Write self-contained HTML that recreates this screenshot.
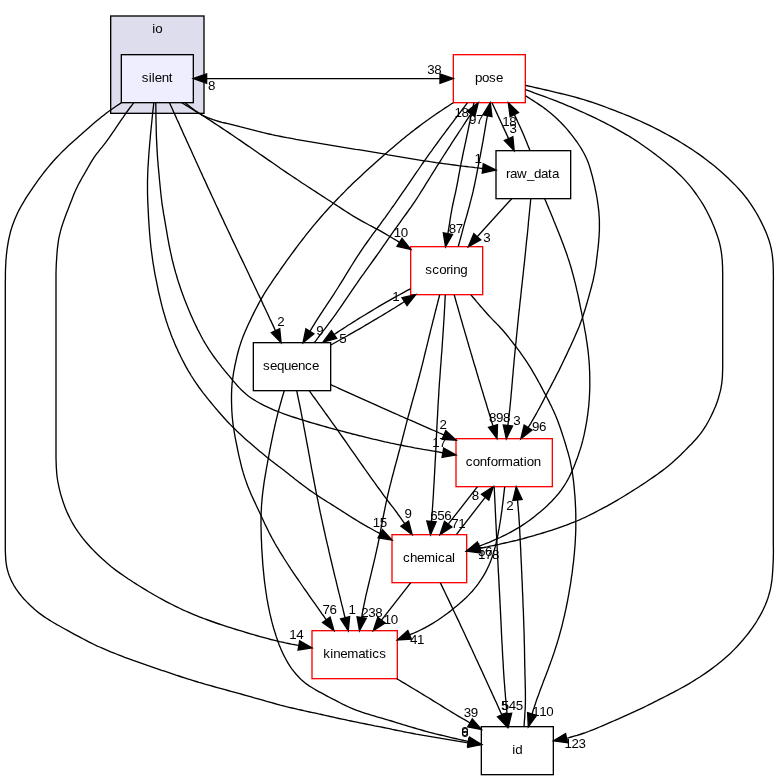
<!DOCTYPE html>
<html><head><meta charset="utf-8"><title>core/io/silent directory dependency graph</title>
<style>
html,body{margin:0;padding:0;background:#fff;}
body{width:779px;height:780px;overflow:hidden;}
.t{font-family:"Liberation Sans",sans-serif;font-size:13.33px;text-anchor:start;fill:#000;}
</style></head><body>
<svg width="779" height="780" viewBox="0 0 779 780" style="display:block;will-change:transform">
<rect x="0" y="0" width="779" height="780" fill="#fff"/>
<rect x="110.67" y="16" width="93.33" height="97.33" fill="#ddddee" stroke="#000" stroke-width="1.33"/>
<text x="152.15 155.15" y="32.60" class="t">io</text>
<rect x="121.33" y="54.67" width="72.00" height="48.00" fill="#eeeeff" stroke="#000" stroke-width="1.33"/>
<text x="141.77 148.77 151.77 154.77 161.77 168.77" y="82.47" class="t">silent</text>
<rect x="453.33" y="54.67" width="72.00" height="48.00" fill="#fff" stroke="#f00" stroke-width="1.33"/>
<text x="474.88 481.88 488.88 495.88" y="82.47" class="t">pose</text>
<rect x="496" y="150.67" width="74.67" height="48.00" fill="#fff" stroke="#000" stroke-width="1.33"/>
<text x="505.92 509.92 516.92 526.92 533.92 540.92 547.92 551.92" y="178.47" class="t">raw_data</text>
<rect x="410.67" y="246.67" width="72.00" height="48.00" fill="#fff" stroke="#f00" stroke-width="1.33"/>
<text x="425.19 432.19 439.19 446.19 450.19 453.19 460.19" y="274.47" class="t">scoring</text>
<rect x="253.33" y="342.67" width="77.34" height="48.00" fill="#fff" stroke="#000" stroke-width="1.33"/>
<text x="263.10 270.10 277.10 284.10 291.10 298.10 305.10 312.10" y="370.47" class="t">sequence</text>
<rect x="456" y="438.67" width="96.33" height="48.00" fill="#fff" stroke="#f00" stroke-width="1.33"/>
<text x="465.64 472.64 479.64 486.64 490.64 497.64 501.64 512.64 519.64 523.64 526.64 533.64" y="466.47" class="t">conformation</text>
<rect x="392" y="534.67" width="74.67" height="48.00" fill="#fff" stroke="#f00" stroke-width="1.33"/>
<text x="403.04 410.04 417.04 424.04 435.04 438.04 445.04 452.04" y="562.47" class="t">chemical</text>
<rect x="312" y="630.67" width="85.33" height="48.00" fill="#fff" stroke="#f00" stroke-width="1.33"/>
<text x="323.19 330.19 333.19 340.19 347.19 358.19 365.19 369.19 372.19 379.19" y="658.47" class="t">kinematics</text>
<rect x="481.33" y="726.67" width="72.00" height="48.00" fill="#fff" stroke="#000" stroke-width="1.33"/>
<text x="512.14 515.14" y="754.47" class="t">id</text>
<path d="M121.4,102.7 L118.9,104.4 L116.4,106.0 L113.9,107.7 L111.4,109.5 L108.9,111.2 L106.5,113.0 L104.1,114.9 L101.7,116.8 L99.4,118.7 L97.1,120.6 L94.7,122.5 L92.4,124.5 L90.2,126.5 L87.9,128.5 L85.6,130.5 L83.3,132.4 L81.1,134.5 L78.8,136.5 L76.6,138.5 L74.3,140.5 L72.1,142.5 L69.8,144.6 L67.6,146.6 L65.4,148.7 L63.2,150.8 L61.1,152.9 L59.0,155.1 L56.9,157.3 L54.8,159.5 L52.8,161.7 L50.8,164.0 L48.9,166.3 L47.0,168.7 L45.1,171.0 L43.2,173.4 L41.4,175.8 L39.6,178.2 L37.8,180.7 L36.1,183.1 L34.3,185.6 L32.6,188.1 L30.9,190.6 L29.2,193.1 L27.5,195.6 L25.9,198.2 L24.3,200.8 L22.8,203.4 L21.3,206.0 L19.8,208.6 L18.4,211.3 L17.1,214.0 L15.9,216.8 L14.7,219.6 L13.6,222.4 L12.5,225.2 L11.6,228.1 L10.7,231.0 L10.0,233.9 L9.3,236.9 L8.6,239.8 L8.1,242.8 L7.6,245.8 L7.1,248.8 L6.8,251.8 L6.4,254.8 L6.2,257.8 L5.9,260.8 L5.8,263.8 L5.6,266.9 L5.5,269.9 L5.4,272.9 L5.4,275.9 L5.4,279.0 L5.3,282.0 L5.3,285.0 L5.3,540.0 L5.3,543.0 L5.3,546.0 L5.3,549.0 L5.4,552.1 L5.5,555.1 L5.7,558.1 L5.9,561.1 L6.3,564.1 L6.8,567.1 L7.5,570.0 L8.3,572.9 L9.3,575.8 L10.4,578.6 L11.7,581.4 L13.1,584.0 L14.6,586.7 L16.2,589.2 L18.0,591.6 L19.8,594.0 L21.7,596.4 L23.7,598.7 L25.8,600.9 L27.9,603.1 L30.1,605.2 L32.3,607.2 L34.5,609.3 L36.8,611.2 L39.2,613.1 L41.6,614.9 L44.0,616.6 L46.5,618.3 L49.1,619.9 L51.6,621.5 L54.2,623.0 L56.9,624.6 L59.5,626.0 L62.1,627.5 L64.8,629.0 L67.4,630.4 L70.1,631.9 L72.7,633.3 L75.4,634.8 L78.0,636.2 L80.7,637.6 L83.4,639.0 L86.0,640.4 L88.7,641.8 L91.4,643.2 L94.1,644.5 L96.8,645.8 L99.6,647.0 L102.3,648.2 L105.1,649.4 L107.9,650.6 L110.7,651.8 L113.5,652.9 L116.3,654.0 L119.1,655.1 L121.9,656.2 L124.7,657.3 L127.6,658.3 L130.4,659.3 L133.2,660.4 L136.1,661.4 L138.9,662.4 L141.7,663.4 L144.6,664.4 L147.4,665.4 L150.3,666.4 L153.1,667.3 L156.0,668.3 L158.9,669.3 L161.7,670.3 L164.6,671.2 L167.4,672.2 L170.3,673.2 L173.1,674.1 L176.0,675.1 L178.9,676.0 L181.7,677.0 L184.6,677.9 L187.5,678.8 L190.3,679.7 L193.2,680.6 L196.1,681.5 L199.0,682.4 L201.9,683.2 L204.8,684.1 L207.7,684.9 L210.6,685.7 L213.5,686.5 L216.4,687.3 L219.3,688.1 L222.2,688.9 L225.1,689.7 L228.0,690.5 L231.0,691.3 L233.9,692.1 L236.8,692.9 L239.7,693.7 L242.6,694.5 L245.5,695.3 L248.4,696.1 L251.3,696.9 L254.2,697.8 L257.1,698.6 L260.0,699.4 L262.9,700.2 L265.8,701.1 L268.7,701.9 L271.6,702.7 L274.5,703.5 L277.4,704.3 L280.3,705.1 L283.3,705.8 L286.2,706.6 L289.1,707.3 L292.0,708.0 L295.0,708.7 L297.9,709.4 L300.9,710.0 L303.8,710.7 L306.7,711.3 L309.7,712.0 L312.6,712.6 L315.6,713.2 L318.5,713.9 L321.5,714.5 L324.4,715.2 L327.4,715.8 L330.3,716.5 L333.3,717.1 L336.2,717.8 L339.1,718.5 L342.1,719.1 L345.0,719.7 L348.0,720.4 L350.9,721.0 L353.9,721.6 L356.8,722.2 L359.8,722.8 L362.8,723.4 L365.7,724.0 L368.7,724.6 L371.6,725.2 L374.6,725.8 L377.5,726.3 L380.5,726.9 L383.5,727.5 L386.4,728.1 L389.4,728.7 L392.3,729.4 L395.3,730.0 L398.2,730.6 L401.2,731.2 L404.1,731.8 L407.1,732.4 L410.1,732.9 L413.0,733.5 L416.0,734.1 L419.0,734.6 L421.9,735.1 L424.9,735.6 L427.9,736.1 L430.8,736.6 L433.8,737.1 L436.8,737.6 L439.8,738.1 L442.7,738.6 L445.7,739.1 L448.7,739.6 L451.7,740.1 L454.6,740.6 L457.6,741.1 L460.6,741.6 L463.6,742.1 L466.5,742.6 L468.3,742.8" fill="none" stroke="#000" stroke-width="1.33"/>
<polygon points="467.69,747.47 481.50,744.50 468.86,738.20" fill="#000" stroke="#000" stroke-width="1.33"/>
<text x="461.20" y="736.80" class="t">6</text>
<path d="M133.8,102.7 L132.0,105.1 L130.1,107.5 L128.3,110.0 L126.5,112.4 L124.8,114.9 L123.1,117.4 L121.3,119.9 L119.6,122.4 L117.9,124.9 L116.2,127.4 L114.6,129.9 L112.8,132.4 L111.1,134.9 L109.4,137.4 L107.6,139.9 L105.8,142.3 L104.0,144.7 L102.1,147.1 L100.1,149.4 L98.3,151.8 L96.4,154.2 L94.6,156.7 L93.0,159.2 L91.4,161.7 L89.8,164.4 L88.3,167.0 L86.8,169.6 L85.3,172.3 L83.8,174.9 L82.2,177.5 L80.8,180.2 L79.3,182.8 L77.9,185.5 L76.6,188.2 L75.3,191.0 L74.1,193.8 L73.0,196.6 L71.9,199.4 L70.8,202.2 L69.7,205.0 L68.6,207.9 L67.5,210.7 L66.4,213.5 L65.3,216.4 L64.3,219.2 L63.3,222.1 L62.3,225.0 L61.4,227.9 L60.6,230.8 L59.9,233.7 L59.2,236.7 L58.6,239.6 L58.2,242.6 L57.8,245.6 L57.4,248.7 L57.1,251.7 L56.9,254.7 L56.7,257.7 L56.5,260.8 L56.3,263.8 L56.2,266.8 L56.1,269.8 L56.0,272.9 L56.0,275.9 L56.0,278.9 L56.0,282.0 L56.0,285.0 L56.0,440.0 L56.0,443.0 L56.0,446.0 L56.0,449.0 L56.0,452.0 L56.0,455.0 L56.0,458.0 L56.1,461.0 L56.2,464.0 L56.3,467.0 L56.5,470.0 L56.7,473.0 L57.0,476.0 L57.4,479.0 L57.9,481.9 L58.5,484.9 L59.1,487.8 L59.8,490.7 L60.5,493.6 L61.4,496.5 L62.3,499.4 L63.2,502.2 L64.2,505.1 L65.3,507.9 L66.4,510.7 L67.6,513.4 L68.9,516.1 L70.2,518.8 L71.6,521.5 L73.1,524.1 L74.6,526.7 L76.2,529.2 L77.9,531.7 L79.7,534.2 L81.5,536.6 L83.3,538.9 L85.2,541.2 L87.2,543.5 L89.2,545.8 L91.2,548.0 L93.3,550.1 L95.4,552.3 L97.6,554.4 L99.7,556.4 L101.9,558.5 L104.2,560.5 L106.4,562.5 L108.7,564.4 L111.0,566.4 L113.3,568.2 L115.7,570.1 L118.1,571.9 L120.6,573.6 L123.0,575.3 L125.5,577.0 L128.0,578.7 L130.5,580.3 L133.0,582.0 L135.6,583.6 L138.1,585.2 L140.6,586.8 L143.2,588.4 L145.7,589.9 L148.3,591.5 L150.9,593.0 L153.5,594.5 L156.1,596.0 L158.7,597.5 L161.3,598.9 L164.0,600.4 L166.6,601.8 L169.3,603.2 L172.0,604.5 L174.6,605.9 L177.3,607.2 L180.1,608.5 L182.8,609.8 L185.5,611.0 L188.2,612.2 L191.0,613.4 L193.8,614.6 L196.5,615.7 L199.3,616.8 L202.1,617.9 L204.9,619.0 L207.8,620.0 L210.6,621.0 L213.4,622.0 L216.2,623.0 L219.1,624.0 L221.9,624.9 L224.8,625.8 L227.7,626.8 L230.5,627.7 L233.4,628.6 L236.2,629.5 L239.1,630.3 L242.0,631.2 L244.9,632.1 L247.7,633.0 L250.6,633.8 L253.5,634.7 L256.4,635.5 L259.3,636.3 L262.1,637.1 L265.0,637.9 L267.9,638.7 L270.8,639.5 L273.7,640.2 L276.7,640.9 L279.6,641.6 L282.5,642.2 L285.4,642.9 L288.4,643.5 L291.3,644.1 L294.3,644.6 L297.2,645.2 L298.9,645.5" fill="none" stroke="#000" stroke-width="1.33"/>
<polygon points="298.06,650.09 312.00,647.80 299.68,640.89" fill="#000" stroke="#000" stroke-width="1.33"/>
<text x="289.30 296.30" y="639.20" class="t">14</text>
<path d="M153.8,102.7 L153.5,105.7 L153.2,108.7 L152.8,111.7 L152.5,114.7 L152.2,117.7 L151.9,120.7 L151.6,123.7 L151.3,126.7 L151.0,129.7 L150.7,132.7 L150.4,135.7 L150.2,138.7 L149.9,141.7 L149.6,144.7 L149.4,147.7 L149.1,150.7 L148.9,153.7 L148.7,156.7 L148.5,159.7 L148.3,162.7 L148.1,165.7 L147.9,168.7 L147.8,171.8 L147.7,174.8 L147.6,177.8 L147.5,180.8 L147.5,183.8 L147.5,186.8 L147.5,189.8 L147.5,192.8 L147.6,195.9 L147.7,198.9 L147.8,201.9 L147.9,204.9 L148.1,207.9 L148.2,210.9 L148.4,213.9 L148.5,216.9 L148.7,219.9 L148.9,223.0 L149.1,226.0 L149.3,229.0 L149.5,232.0 L149.8,235.0 L150.0,238.0 L150.3,241.0 L150.6,244.0 L150.9,247.0 L151.3,250.0 L151.7,253.0 L152.1,256.0 L152.5,258.9 L152.9,261.9 L153.4,264.9 L153.9,267.9 L154.4,270.8 L154.9,273.8 L155.5,276.8 L156.1,279.7 L156.7,282.7 L157.3,285.6 L157.9,288.6 L158.5,291.5 L159.2,294.5 L159.9,297.4 L160.6,300.4 L161.3,303.3 L162.0,306.2 L162.8,309.1 L163.6,312.0 L164.5,314.9 L165.3,317.8 L166.2,320.7 L167.2,323.6 L168.1,326.4 L169.1,329.2 L170.2,332.1 L171.2,334.9 L172.3,337.7 L173.5,340.5 L174.6,343.3 L175.8,346.1 L177.1,348.8 L178.3,351.6 L179.6,354.3 L180.9,357.0 L182.3,359.7 L183.7,362.4 L185.1,365.1 L186.5,367.7 L188.0,370.3 L189.6,372.9 L191.1,375.5 L192.7,378.0 L194.4,380.6 L196.1,383.1 L197.8,385.5 L199.5,388.0 L201.3,390.4 L203.1,392.8 L205.0,395.2 L206.9,397.6 L208.7,399.9 L210.7,402.3 L212.6,404.6 L214.5,406.9 L216.5,409.2 L218.4,411.5 L220.4,413.8 L222.4,416.0 L224.4,418.3 L226.4,420.5 L228.5,422.7 L230.6,424.9 L232.7,427.0 L234.9,429.1 L237.0,431.2 L239.2,433.3 L241.4,435.3 L243.7,437.4 L245.9,439.4 L248.2,441.4 L250.5,443.3 L252.7,445.3 L255.0,447.3 L257.3,449.2 L259.6,451.2 L261.9,453.1 L264.3,455.0 L266.6,456.9 L268.9,458.8 L271.3,460.7 L273.7,462.5 L276.1,464.4 L278.5,466.2 L280.9,468.0 L283.3,469.8 L285.7,471.7 L288.0,473.5 L290.4,475.4 L292.8,477.3 L295.1,479.2 L297.5,481.0 L299.9,482.9 L302.3,484.7 L304.7,486.5 L307.1,488.3 L309.5,490.1 L312.0,491.8 L314.5,493.5 L317.0,495.2 L319.5,496.9 L322.0,498.5 L324.6,500.1 L327.1,501.7 L329.7,503.3 L332.2,504.9 L334.8,506.5 L337.3,508.1 L339.9,509.7 L342.4,511.4 L345.0,513.0 L347.5,514.6 L350.0,516.2 L352.6,517.9 L355.1,519.4 L357.7,521.0 L360.3,522.6 L362.9,524.1 L365.5,525.6 L368.1,527.1 L370.8,528.5 L373.4,530.0 L376.0,531.5 L378.7,532.9 L380.2,533.7" fill="none" stroke="#000" stroke-width="1.33"/>
<polygon points="378.04,537.84 392.00,540.00 382.44,529.60" fill="#000" stroke="#000" stroke-width="1.33"/>
<text x="372.70 379.70" y="527.00" class="t">15</text>
<path d="M155.8,102.7 L155.8,105.7 L155.9,108.7 L155.9,111.7 L155.9,114.8 L156.0,117.8 L156.0,120.8 L156.1,123.8 L156.2,126.8 L156.2,129.8 L156.3,132.8 L156.4,135.9 L156.5,138.9 L156.7,141.9 L156.8,144.9 L157.0,147.9 L157.1,150.9 L157.3,153.9 L157.5,156.9 L157.7,159.9 L158.0,162.9 L158.2,165.9 L158.5,168.9 L158.8,172.0 L159.1,175.0 L159.3,178.0 L159.6,181.0 L159.9,184.0 L160.2,187.0 L160.5,190.0 L160.8,193.0 L161.1,196.0 L161.5,199.0 L161.8,201.9 L162.2,204.9 L162.7,207.9 L163.2,210.9 L163.6,213.9 L164.2,216.8 L164.7,219.8 L165.2,222.8 L165.7,225.8 L166.2,228.7 L166.7,231.7 L167.2,234.7 L167.7,237.6 L168.3,240.6 L168.8,243.6 L169.4,246.5 L170.0,249.5 L170.6,252.4 L171.3,255.4 L171.9,258.3 L172.6,261.3 L173.4,264.2 L174.1,267.1 L174.9,270.0 L175.7,272.9 L176.6,275.8 L177.4,278.7 L178.3,281.6 L179.3,284.5 L180.2,287.3 L181.2,290.2 L182.2,293.0 L183.2,295.8 L184.3,298.7 L185.4,301.5 L186.5,304.3 L187.6,307.1 L188.8,309.9 L189.9,312.6 L191.1,315.4 L192.4,318.2 L193.6,320.9 L194.9,323.7 L196.2,326.4 L197.5,329.1 L198.9,331.8 L200.3,334.5 L201.7,337.2 L203.1,339.8 L204.6,342.4 L206.2,345.0 L207.8,347.6 L209.4,350.1 L211.1,352.6 L212.8,355.1 L214.5,357.5 L216.3,359.9 L218.1,362.3 L220.0,364.7 L221.8,367.1 L223.7,369.4 L225.6,371.8 L227.6,374.1 L229.5,376.4 L231.5,378.8 L233.4,381.1 L235.4,383.4 L237.4,385.7 L239.4,387.9 L241.5,390.0 L243.7,392.1 L245.9,394.1 L248.3,396.0 L250.7,397.7 L253.3,399.4 L255.9,401.0 L258.5,402.5 L261.1,403.9 L263.8,405.3 L266.6,406.6 L269.3,407.9 L272.0,409.1 L274.8,410.3 L277.6,411.4 L280.4,412.5 L283.2,413.6 L286.1,414.6 L288.9,415.6 L291.8,416.6 L294.6,417.5 L297.5,418.4 L300.4,419.3 L303.3,420.2 L306.2,421.1 L309.0,422.0 L311.9,422.8 L314.8,423.7 L317.7,424.5 L320.6,425.3 L323.5,426.2 L326.4,427.0 L329.3,427.8 L332.2,428.6 L335.1,429.4 L338.1,430.1 L341.0,430.9 L343.9,431.7 L346.8,432.5 L349.7,433.2 L352.6,434.0 L355.6,434.7 L358.5,435.5 L361.4,436.2 L364.3,436.9 L367.3,437.6 L370.2,438.3 L373.1,439.1 L376.1,439.7 L379.0,440.4 L381.9,441.1 L384.9,441.8 L387.8,442.4 L390.8,443.1 L393.7,443.7 L396.7,444.3 L399.6,444.9 L402.6,445.5 L405.5,446.1 L408.5,446.7 L411.5,447.2 L414.4,447.8 L417.4,448.3 L420.4,448.8 L423.3,449.4 L426.3,449.9 L429.3,450.4 L432.2,450.9 L435.2,451.4 L438.2,451.9 L441.1,452.5 L442.9,452.8" fill="none" stroke="#000" stroke-width="1.33"/>
<polygon points="442.07,457.36 456.00,455.00 443.65,448.15" fill="#000" stroke="#000" stroke-width="1.33"/>
<text x="432.20 439.20" y="446.50" class="t">17</text>
<path d="M169.5,102.7 L170.7,105.4 L172.0,108.2 L173.2,110.9 L174.4,113.7 L175.7,116.4 L176.9,119.2 L178.2,121.9 L179.4,124.6 L180.6,127.4 L181.9,130.1 L183.1,132.9 L184.3,135.6 L185.6,138.3 L186.8,141.1 L188.1,143.8 L189.3,146.6 L190.6,149.3 L191.8,152.0 L193.0,154.8 L194.3,157.5 L195.5,160.3 L196.8,163.0 L198.0,165.7 L199.3,168.5 L200.5,171.2 L201.8,173.9 L203.0,176.7 L204.3,179.4 L205.5,182.1 L206.8,184.9 L208.0,187.6 L209.3,190.3 L210.6,193.1 L211.8,195.8 L213.1,198.5 L214.4,201.3 L215.6,204.0 L216.9,206.7 L218.2,209.4 L219.4,212.2 L220.7,214.9 L222.0,217.6 L223.3,220.3 L224.5,223.1 L225.8,225.8 L227.1,228.5 L228.4,231.2 L229.7,233.9 L231.0,236.7 L232.2,239.4 L233.5,242.1 L234.8,244.8 L236.1,247.5 L237.4,250.2 L238.7,253.0 L240.0,255.7 L241.3,258.4 L242.6,261.1 L243.9,263.8 L245.2,266.5 L246.5,269.2 L247.8,272.0 L249.1,274.7 L250.3,277.4 L251.6,280.1 L252.9,282.8 L254.2,285.5 L255.5,288.3 L256.8,291.0 L258.1,293.7 L259.4,296.4 L260.7,299.1 L262.0,301.8 L263.2,304.6 L264.5,307.3 L265.8,310.0 L267.1,312.7 L268.4,315.5 L269.6,318.2 L270.9,320.9 L272.2,323.6 L273.5,326.4 L274.7,329.1 L275.5,330.6" fill="none" stroke="#000" stroke-width="1.33"/>
<polygon points="271.23,332.60 281.10,342.70 279.69,328.65" fill="#000" stroke="#000" stroke-width="1.33"/>
<text x="277.30" y="326.20" class="t">2</text>
<path d="M181.7,102.7 L184.3,104.3 L186.9,105.8 L189.5,107.4 L192.0,109.0 L194.6,110.6 L197.2,112.2 L199.7,113.8 L202.3,115.4 L204.9,117.0 L207.4,118.6 L210.0,120.3 L212.5,121.9 L215.0,123.6 L217.6,125.2 L220.1,126.9 L222.6,128.6 L225.1,130.2 L227.6,131.9 L230.1,133.6 L232.6,135.3 L235.1,137.0 L237.6,138.7 L240.1,140.4 L242.6,142.1 L245.1,143.9 L247.6,145.6 L250.1,147.3 L252.6,149.0 L255.1,150.7 L257.6,152.5 L260.0,154.2 L262.5,155.9 L265.0,157.6 L267.5,159.4 L270.0,161.1 L272.5,162.8 L275.0,164.5 L277.5,166.2 L279.9,168.0 L282.4,169.7 L284.9,171.4 L287.4,173.1 L289.9,174.8 L292.5,176.5 L295.0,178.1 L297.5,179.8 L300.0,181.5 L302.5,183.2 L305.0,184.8 L307.6,186.5 L310.1,188.1 L312.6,189.8 L315.2,191.4 L317.7,193.1 L320.3,194.7 L322.8,196.4 L325.3,198.0 L327.9,199.7 L330.4,201.3 L332.9,203.0 L335.5,204.6 L338.0,206.3 L340.5,207.9 L343.1,209.6 L345.6,211.2 L348.2,212.9 L350.7,214.5 L353.3,216.1 L355.9,217.6 L358.5,219.1 L361.1,220.6 L363.8,222.1 L366.4,223.5 L369.1,225.0 L371.8,226.4 L374.4,227.8 L377.1,229.2 L379.8,230.7 L382.4,232.1 L385.0,233.6 L387.7,235.2 L390.3,236.7 L392.8,238.3 L395.4,239.8 L398.0,241.4 L399.5,242.4" fill="none" stroke="#000" stroke-width="1.33"/>
<polygon points="397.04,246.33 410.80,249.50 402.03,238.43" fill="#000" stroke="#000" stroke-width="1.33"/>
<text x="393.80 400.80" y="237.00" class="t">10</text>
<path d="M185.0,102.7 L187.4,104.6 L189.8,106.5 L192.2,108.4 L194.6,110.2 L197.1,111.9 L199.6,113.5 L202.2,115.0 L204.9,116.3 L207.6,117.6 L210.4,118.7 L213.2,119.7 L216.1,120.6 L219.0,121.5 L222.0,122.3 L224.9,123.0 L227.9,123.7 L230.9,124.4 L233.9,125.1 L236.9,125.8 L239.8,126.6 L242.8,127.3 L245.7,128.1 L248.6,128.8 L251.6,129.6 L254.5,130.3 L257.4,131.1 L260.3,131.8 L263.3,132.6 L266.2,133.3 L269.1,134.0 L272.0,134.7 L275.0,135.3 L278.0,135.9 L280.9,136.5 L283.9,137.1 L286.9,137.7 L289.8,138.2 L292.8,138.7 L295.8,139.3 L298.8,139.8 L301.8,140.3 L304.7,140.8 L307.7,141.3 L310.7,141.8 L313.7,142.3 L316.7,142.8 L319.7,143.3 L322.6,143.8 L325.6,144.3 L328.6,144.8 L331.6,145.3 L334.6,145.8 L337.6,146.3 L340.5,146.8 L343.5,147.3 L346.5,147.8 L349.5,148.3 L352.5,148.8 L355.5,149.3 L358.4,149.7 L361.4,150.2 L364.4,150.7 L367.4,151.2 L370.4,151.7 L373.3,152.2 L376.3,152.7 L379.3,153.2 L382.3,153.7 L385.3,154.2 L388.2,154.8 L391.2,155.3 L394.2,155.8 L397.2,156.3 L400.2,156.8 L403.1,157.3 L406.1,157.8 L409.1,158.3 L412.1,158.8 L415.1,159.3 L418.1,159.8 L421.0,160.3 L424.0,160.8 L427.0,161.2 L430.0,161.7 L433.0,162.1 L436.0,162.6 L439.0,163.0 L442.0,163.4 L445.0,163.8 L448.0,164.2 L451.0,164.6 L454.0,165.0 L457.0,165.4 L460.0,165.8 L463.0,166.2 L466.0,166.5 L469.0,166.9 L472.0,167.2 L475.0,167.6 L478.0,167.9 L481.0,168.3 L482.8,168.5" fill="none" stroke="#000" stroke-width="1.33"/>
<polygon points="482.23,173.14 496.00,170.00 483.28,163.86" fill="#000" stroke="#000" stroke-width="1.33"/>
<text x="474.50" y="163.20" class="t">1</text>
<path d="M440.0,78.6 L206.6,78.6" fill="none" stroke="#000" stroke-width="1.33"/>
<polygon points="439.97,83.27 453.30,78.60 439.97,73.93" fill="#000" stroke="#000" stroke-width="1.33"/>
<polygon points="206.63,73.93 193.30,78.60 206.63,83.27" fill="#000" stroke="#000" stroke-width="1.33"/>
<text x="207.90" y="89.90" class="t">8</text>
<text x="427.30 434.30" y="73.70" class="t">38</text>
<path d="M530.0,150.7 L528.9,147.8 L527.7,144.9 L526.6,142.0 L525.4,139.2 L524.2,136.3 L523.0,133.5 L521.7,130.6 L520.5,127.8 L519.2,125.0 L517.9,122.2 L516.6,119.4 L515.3,116.6 L514.3,114.6" fill="none" stroke="#000" stroke-width="1.33"/>
<polygon points="518.49,112.48 508.30,102.70 510.15,116.70" fill="#000" stroke="#000" stroke-width="1.33"/>
<text x="502.20 509.20" y="125.70" class="t">18</text>
<path d="M530.8,198.7 L530.5,201.7 L530.2,204.7 L529.9,207.7 L529.6,210.7 L529.3,213.7 L529.0,216.7 L528.7,219.7 L528.4,222.7 L528.2,225.7 L527.9,228.7 L527.6,231.7 L527.3,234.7 L527.0,237.7 L526.6,240.7 L526.3,243.7 L526.0,246.7 L525.7,249.7 L525.4,252.7 L525.1,255.7 L524.8,258.7 L524.5,261.7 L524.2,264.7 L523.8,267.7 L523.5,270.7 L523.2,273.7 L522.9,276.7 L522.5,279.7 L522.2,282.7 L521.9,285.7 L521.5,288.7 L521.2,291.7 L520.9,294.7 L520.6,297.7 L520.2,300.7 L519.9,303.7 L519.6,306.7 L519.3,309.7 L518.9,312.7 L518.6,315.7 L518.3,318.7 L518.0,321.7 L517.7,324.7 L517.4,327.7 L517.1,330.7 L516.8,333.7 L516.5,336.7 L516.2,339.7 L515.9,342.7 L515.6,345.7 L515.3,348.7 L515.0,351.7 L514.7,354.7 L514.4,357.7 L514.1,360.7 L513.9,363.7 L513.6,366.7 L513.3,369.7 L513.1,372.7 L512.8,375.7 L512.5,378.7 L512.3,381.7 L512.0,384.7 L511.8,387.7 L511.5,390.7 L511.2,393.7 L511.0,396.7 L510.7,399.7 L510.4,402.7 L510.1,405.7 L509.8,408.7 L509.5,411.7 L509.1,414.7 L508.8,417.7 L508.5,420.7 L508.1,423.7 L507.9,425.5" fill="none" stroke="#000" stroke-width="1.33"/>
<polygon points="503.27,424.91 506.30,438.70 512.54,426.03" fill="#000" stroke="#000" stroke-width="1.33"/>
<text x="513.30" y="425.10" class="t">3</text>
<path d="M544.7,198.7 L545.9,201.5 L547.0,204.2 L548.2,207.0 L549.3,209.8 L550.5,212.6 L551.6,215.3 L552.8,218.1 L553.9,220.9 L555.1,223.7 L556.2,226.4 L557.3,229.2 L558.4,232.0 L559.5,234.8 L560.6,237.6 L561.7,240.4 L562.8,243.2 L563.8,246.0 L564.9,248.9 L565.9,251.7 L566.9,254.5 L567.8,257.4 L568.8,260.2 L569.7,263.1 L570.6,266.0 L571.4,268.8 L572.2,271.7 L573.0,274.6 L573.8,277.5 L574.5,280.4 L575.3,283.4 L576.0,286.3 L576.6,289.2 L577.3,292.1 L578.0,295.1 L578.6,298.0 L579.2,301.0 L579.8,303.9 L580.4,306.8 L581.0,309.8 L581.6,312.7 L582.2,315.7 L582.7,318.6 L583.3,321.6 L583.9,324.5 L584.4,327.5 L584.9,330.4 L585.5,333.4 L586.0,336.4 L586.4,339.3 L586.9,342.3 L587.3,345.3 L587.7,348.2 L588.1,351.2 L588.4,354.2 L588.7,357.2 L589.0,360.2 L589.2,363.2 L589.4,366.2 L589.5,369.2 L589.7,372.2 L589.7,375.2 L589.8,378.2 L589.8,381.2 L589.8,384.2 L589.8,387.2 L589.7,390.2 L589.6,393.2 L589.4,396.2 L589.3,399.2 L589.0,402.2 L588.8,405.2 L588.5,408.2 L588.1,411.2 L587.8,414.2 L587.3,417.1 L586.9,420.1 L586.4,423.1 L585.9,426.0 L585.3,429.0 L584.7,431.9 L584.1,434.9 L583.4,437.8 L582.7,440.7 L581.9,443.6 L581.1,446.5 L580.2,449.4 L579.2,452.2 L578.3,455.1 L577.3,457.9 L576.2,460.7 L575.2,463.5 L574.1,466.3 L572.9,469.1 L571.7,471.9 L570.4,474.6 L569.1,477.3 L567.7,479.9 L566.2,482.5 L564.6,485.1 L562.9,487.6 L561.2,490.1 L559.4,492.5 L557.5,494.8 L555.5,497.1 L553.5,499.3 L551.5,501.5 L549.3,503.6 L547.2,505.7 L545.0,507.8 L542.7,509.7 L540.4,511.7 L538.1,513.6 L535.7,515.5 L533.4,517.4 L531.0,519.2 L528.6,521.0 L526.1,522.7 L523.6,524.4 L521.1,526.1 L518.6,527.7 L516.0,529.2 L513.4,530.7 L510.8,532.1 L508.2,533.5 L505.5,534.9 L502.8,536.2 L500.1,537.5 L497.4,538.7 L494.6,539.9 L491.8,541.1 L489.1,542.3 L486.3,543.4 L483.5,544.5 L480.7,545.6 L479.0,546.3" fill="none" stroke="#000" stroke-width="1.33"/>
<polygon points="477.32,541.93 466.50,551.00 480.62,550.67" fill="#000" stroke="#000" stroke-width="1.33"/>
<text x="478.00 485.00" y="555.50" class="t">56</text>
<path d="M511.7,198.7 L477.2,236.8" fill="none" stroke="#000" stroke-width="1.33"/>
<polygon points="473.78,233.68 468.30,246.70 480.70,239.94" fill="#000" stroke="#000" stroke-width="1.33"/>
<text x="483.20" y="242.00" class="t">3</text>
<path d="M458.2,246.7 L459.0,243.8 L459.8,240.9 L460.6,238.0 L461.4,235.1 L462.2,232.2 L462.9,229.3 L463.7,226.4 L464.5,223.4 L465.3,220.5 L466.2,217.6 L467.0,214.7 L467.8,211.8 L468.6,208.9 L469.4,206.0 L470.1,203.1 L470.9,200.2 L471.6,197.3 L472.4,194.3 L473.1,191.4 L473.7,188.5 L474.4,185.5 L475.0,182.6 L475.6,179.6 L476.2,176.7 L476.8,173.7 L477.3,170.8 L477.9,167.8 L478.5,164.8 L479.0,161.9 L479.6,158.9 L480.2,156.0 L480.8,153.0 L481.3,150.1 L481.9,147.1 L482.4,144.1 L483.0,141.2 L483.5,138.2 L484.0,135.2 L484.5,132.3 L485.0,129.3 L485.5,126.3 L486.0,123.3 L486.5,120.4 L487.1,117.4 L487.4,115.7" fill="none" stroke="#000" stroke-width="1.33"/>
<polygon points="491.98,116.72 490.30,102.70 482.86,114.71" fill="#000" stroke="#000" stroke-width="1.33"/>
<text x="469.00 476.00" y="123.50" class="t">97</text>
<path d="M410.5,288.8 L407.8,290.2 L405.2,291.6 L402.5,293.1 L399.9,294.5 L397.2,296.0 L394.6,297.4 L392.0,298.9 L389.4,300.4 L386.7,301.9 L384.1,303.4 L381.5,304.9 L378.9,306.4 L376.3,308.0 L373.8,309.5 L371.2,311.1 L368.6,312.6 L366.0,314.2 L363.5,315.7 L360.9,317.3 L358.3,318.9 L355.8,320.5 L353.2,322.1 L350.7,323.7 L348.1,325.3 L345.6,327.0 L343.1,328.6 L340.5,330.2 L338.0,331.9 L335.5,333.6 L334.0,334.5" fill="none" stroke="#000" stroke-width="1.33"/>
<polygon points="331.42,330.66 323.00,342.00 336.66,338.39" fill="#000" stroke="#000" stroke-width="1.33"/>
<text x="339.30" y="342.80" class="t">5</text>
<path d="M439.7,294.7 L439.0,297.6 L438.2,300.5 L437.5,303.4 L436.7,306.3 L436.0,309.3 L435.2,312.2 L434.5,315.1 L433.8,318.0 L433.0,320.9 L432.3,323.8 L431.6,326.7 L430.8,329.7 L430.1,332.6 L429.4,335.5 L428.7,338.4 L428.0,341.3 L427.3,344.2 L426.6,347.2 L425.8,350.1 L425.1,353.0 L424.4,355.9 L423.7,358.8 L423.0,361.8 L422.3,364.7 L421.5,367.6 L420.8,370.5 L420.0,373.4 L419.3,376.3 L418.5,379.2 L417.7,382.1 L416.9,385.0 L416.2,387.9 L415.4,390.8 L414.5,393.7 L413.7,396.6 L412.9,399.5 L412.1,402.4 L411.3,405.3 L410.5,408.2 L409.7,411.1 L408.9,414.0 L408.1,416.9 L407.3,419.8 L406.6,422.7 L405.8,425.6 L405.1,428.5 L404.3,431.4 L403.6,434.3 L402.8,437.2 L402.1,440.1 L401.3,443.1 L400.5,446.0 L399.8,448.9 L399.0,451.8 L398.2,454.7 L397.5,457.6 L396.7,460.5 L395.9,463.4 L395.1,466.3 L394.3,469.2 L393.6,472.1 L392.8,475.0 L392.0,477.9 L391.3,480.8 L390.6,483.7 L389.8,486.7 L389.1,489.6 L388.4,492.5 L387.7,495.4 L387.1,498.3 L386.4,501.3 L385.8,504.2 L385.2,507.2 L384.6,510.1 L384.0,513.0 L383.4,516.0 L382.8,518.9 L382.3,521.9 L381.7,524.9 L381.1,527.8 L380.6,530.8 L380.0,533.7 L379.4,536.7 L378.9,539.6 L378.3,542.6 L377.7,545.5 L377.0,548.4 L376.4,551.4 L375.7,554.3 L375.1,557.2 L374.4,560.2 L373.7,563.1 L373.0,566.0 L372.3,568.9 L371.6,571.9 L370.9,574.8 L370.2,577.7 L369.5,580.6 L368.8,583.5 L368.1,586.5 L367.4,589.4 L366.7,592.3 L366.0,595.2 L365.4,598.2 L364.8,601.1 L364.1,604.1 L363.6,607.0 L363.0,610.0 L362.4,612.9 L361.9,615.9 L361.6,617.5" fill="none" stroke="#000" stroke-width="1.33"/>
<polygon points="357.03,616.79 359.50,630.70 366.25,618.29" fill="#000" stroke="#000" stroke-width="1.33"/>
<text x="361.20 368.20 375.20" y="617.00" class="t">238</text>
<path d="M445.3,294.7 L445.1,297.7 L445.0,300.7 L444.8,303.7 L444.7,306.7 L444.5,309.7 L444.3,312.7 L444.2,315.7 L444.0,318.7 L443.8,321.7 L443.6,324.7 L443.4,327.7 L443.2,330.7 L443.0,333.7 L442.8,336.7 L442.6,339.7 L442.4,342.7 L442.2,345.7 L442.0,348.7 L441.8,351.7 L441.5,354.7 L441.3,357.7 L441.1,360.7 L440.9,363.7 L440.6,366.7 L440.4,369.7 L440.2,372.7 L440.0,375.7 L439.8,378.7 L439.5,381.7 L439.3,384.7 L439.1,387.7 L438.9,390.7 L438.8,393.7 L438.6,396.7 L438.4,399.7 L438.2,402.7 L438.0,405.7 L437.9,408.7 L437.7,411.7 L437.6,414.7 L437.4,417.7 L437.2,420.7 L437.1,423.7 L436.9,426.7 L436.8,429.7 L436.6,432.7 L436.5,435.7 L436.3,438.7 L436.2,441.7 L436.1,444.7 L435.9,447.7 L435.8,450.7 L435.6,453.7 L435.5,456.7 L435.3,459.7 L435.1,462.7 L435.0,465.7 L434.8,468.7 L434.7,471.7 L434.5,474.7 L434.3,477.7 L434.2,480.7 L434.0,483.7 L433.8,486.7 L433.6,489.7 L433.5,492.7 L433.3,495.7 L433.1,498.7 L432.9,501.7 L432.7,504.7 L432.5,507.7 L432.3,510.7 L432.1,513.7 L431.8,516.7 L431.6,519.7 L431.5,521.4" fill="none" stroke="#000" stroke-width="1.33"/>
<polygon points="426.84,521.06 430.50,534.70 436.15,521.75" fill="#000" stroke="#000" stroke-width="1.33"/>
<text x="430.30 437.30 444.30" y="519.80" class="t">656</text>
<path d="M454.2,294.7 L455.0,297.6 L455.8,300.5 L456.6,303.4 L457.5,306.3 L458.3,309.2 L459.1,312.1 L459.9,314.9 L460.7,317.8 L461.6,320.7 L462.4,323.6 L463.2,326.5 L464.1,329.4 L464.9,332.3 L465.8,335.1 L466.6,338.0 L467.4,340.9 L468.3,343.8 L469.1,346.7 L470.0,349.6 L470.8,352.4 L471.7,355.3 L472.5,358.2 L473.4,361.1 L474.2,364.0 L475.1,366.8 L476.0,369.7 L476.8,372.6 L477.7,375.5 L478.5,378.4 L479.4,381.2 L480.3,384.1 L481.1,387.0 L482.0,389.9 L482.9,392.7 L483.7,395.6 L484.6,398.5 L485.5,401.4 L486.4,404.2 L487.2,407.1 L488.1,410.0 L489.0,412.9 L489.9,415.7 L490.8,418.6 L491.6,421.5 L492.5,424.4 L493.0,426.0" fill="none" stroke="#000" stroke-width="1.33"/>
<polygon points="488.57,427.36 497.00,438.70 497.49,424.58" fill="#000" stroke="#000" stroke-width="1.33"/>
<text x="488.90 495.90 502.90" y="421.70" class="t">898</text>
<path d="M470.8,294.7 L472.7,297.0 L474.7,299.3 L476.6,301.6 L478.6,303.9 L480.5,306.2 L482.5,308.4 L484.5,310.7 L486.5,313.0 L488.5,315.2 L490.5,317.4 L492.6,319.6 L494.7,321.7 L496.8,323.9 L498.9,326.0 L500.9,328.2 L503.0,330.5 L504.9,332.7 L506.8,335.0 L508.7,337.4 L510.6,339.8 L512.4,342.2 L514.2,344.5 L516.1,346.9 L517.9,349.3 L519.7,351.7 L521.4,354.2 L523.2,356.6 L524.9,359.1 L526.6,361.6 L528.2,364.1 L529.8,366.6 L531.4,369.2 L532.9,371.8 L534.4,374.4 L535.9,377.0 L537.4,379.6 L538.8,382.3 L540.3,384.9 L541.7,387.6 L543.1,390.2 L544.5,392.9 L545.9,395.5 L547.3,398.2 L548.7,400.9 L550.0,403.6 L551.4,406.3 L552.6,409.0 L553.9,411.7 L555.1,414.5 L556.3,417.2 L557.4,420.0 L558.4,422.8 L559.5,425.7 L560.5,428.5 L561.4,431.3 L562.4,434.2 L563.3,437.1 L564.2,439.9 L565.1,442.8 L566.0,445.7 L566.8,448.6 L567.7,451.5 L568.5,454.4 L569.3,457.3 L570.0,460.2 L570.6,463.1 L571.2,466.1 L571.8,469.0 L572.3,472.0 L572.7,475.0 L573.1,477.9 L573.5,480.9 L573.8,483.9 L574.1,486.9 L574.4,489.9 L574.6,492.9 L574.9,495.9 L575.1,498.9 L575.3,501.9 L575.4,504.9 L575.6,507.9 L575.7,510.9 L575.8,513.9 L575.8,516.9 L575.8,519.9 L575.8,522.9 L575.8,525.9 L575.8,528.9 L575.7,531.9 L575.6,535.0 L575.4,538.0 L575.3,541.0 L575.1,544.0 L574.9,547.0 L574.6,550.0 L574.4,553.0 L574.1,555.9 L573.8,558.9 L573.5,561.9 L573.1,564.9 L572.7,567.9 L572.4,570.9 L572.0,573.9 L571.5,576.8 L571.1,579.8 L570.7,582.8 L570.2,585.8 L569.7,588.7 L569.2,591.7 L568.7,594.6 L568.1,597.6 L567.6,600.6 L567.0,603.5 L566.4,606.5 L565.8,609.4 L565.1,612.3 L564.5,615.3 L563.8,618.2 L563.1,621.1 L562.4,624.1 L561.7,627.0 L560.9,629.9 L560.1,632.8 L559.3,635.7 L558.5,638.6 L557.6,641.4 L556.8,644.3 L555.8,647.2 L554.9,650.0 L554.0,652.9 L553.0,655.7 L552.0,658.6 L551.0,661.4 L550.0,664.2 L548.9,667.1 L547.9,669.9 L546.8,672.7 L545.8,675.5 L544.7,678.3 L543.6,681.1 L542.6,683.9 L541.5,686.8 L540.4,689.6 L539.4,692.4 L538.4,695.2 L537.3,698.0 L536.3,700.9 L535.4,703.7 L534.4,706.6 L533.5,709.4 L532.6,712.3 L532.1,713.9" fill="none" stroke="#000" stroke-width="1.33"/>
<polygon points="527.62,712.59 528.30,726.70 536.57,715.25" fill="#000" stroke="#000" stroke-width="1.33"/>
<text x="532.20 539.20 546.20" y="715.70" class="t">110</text>
<path d="M314.2,342.7 L316.1,340.3 L317.9,337.9 L319.7,335.5 L321.6,333.1 L323.4,330.7 L325.3,328.3 L327.1,325.8 L328.9,323.4 L330.7,321.0 L332.5,318.6 L334.3,316.1 L336.1,313.6 L337.8,311.2 L339.6,308.7 L341.3,306.2 L343.0,303.7 L344.7,301.2 L346.4,298.7 L348.1,296.2 L349.8,293.7 L351.5,291.2 L353.2,288.7 L354.9,286.2 L356.7,283.7 L358.4,281.2 L360.1,278.7 L361.8,276.2 L363.6,273.8 L365.3,271.3 L367.1,268.8 L368.9,266.4 L370.7,263.9 L372.4,261.5 L374.2,259.0 L376.0,256.5 L377.7,254.1 L379.5,251.6 L381.2,249.1 L382.9,246.6 L384.7,244.1 L386.4,241.6 L388.1,239.1 L389.8,236.7 L391.6,234.2 L393.3,231.7 L395.1,229.2 L396.8,226.8 L398.6,224.3 L400.4,221.8 L402.1,219.4 L403.9,216.9 L405.7,214.5 L407.5,212.0 L409.2,209.5 L411.0,207.1 L412.7,204.6 L414.4,202.1 L416.1,199.6 L417.8,197.0 L419.4,194.5 L421.0,191.9 L422.6,189.4 L424.2,186.8 L425.8,184.2 L427.4,181.7 L429.0,179.1 L430.6,176.5 L432.2,173.9 L433.8,171.4 L435.4,168.8 L437.0,166.2 L438.7,163.7 L440.3,161.1 L441.9,158.5 L443.5,156.0 L445.2,153.4 L446.8,150.9 L448.4,148.3 L450.1,145.8 L451.7,143.2 L453.4,140.7 L455.0,138.2 L456.7,135.6 L458.3,133.1 L460.0,130.5 L461.7,128.0 L463.3,125.5 L465.0,122.9 L466.6,120.4 L468.3,117.9 L470.0,115.3 L471.0,113.8" fill="none" stroke="#000" stroke-width="1.33"/>
<polygon points="474.87,116.40 478.30,102.70 467.07,111.26" fill="#000" stroke="#000" stroke-width="1.33"/>
<text x="454.40 461.40" y="116.60" class="t">18</text>
<path d="M330.8,345.0 L333.5,343.5 L336.2,342.0 L338.9,340.5 L341.6,339.0 L344.3,337.5 L347.0,336.0 L349.7,334.4 L352.4,332.9 L355.0,331.4 L357.7,329.8 L360.4,328.3 L363.1,326.7 L365.7,325.1 L368.4,323.6 L371.1,322.0 L373.7,320.4 L376.4,318.9 L379.0,317.3 L381.7,315.7 L384.3,314.1 L387.0,312.5 L389.6,310.9 L392.2,309.3 L394.9,307.7 L397.5,306.0 L400.1,304.4 L402.7,302.8 L404.5,301.6" fill="none" stroke="#000" stroke-width="1.33"/>
<polygon points="407.04,305.58 415.80,294.50 402.04,297.69" fill="#000" stroke="#000" stroke-width="1.33"/>
<text x="392.30" y="301.20" class="t">1</text>
<path d="M330.5,384.5 L333.3,385.8 L336.1,387.0 L338.8,388.3 L341.6,389.6 L344.4,390.8 L347.2,392.1 L350.0,393.4 L352.8,394.6 L355.5,395.9 L358.3,397.1 L361.1,398.4 L363.9,399.6 L366.7,400.9 L369.5,402.1 L372.3,403.4 L375.1,404.6 L377.8,405.9 L380.6,407.1 L383.4,408.4 L386.2,409.6 L389.0,410.8 L391.8,412.1 L394.6,413.3 L397.4,414.5 L400.2,415.8 L403.0,417.0 L405.8,418.3 L408.6,419.5 L411.4,420.7 L414.2,421.9 L417.0,423.2 L419.8,424.4 L422.6,425.6 L425.4,426.9 L428.2,428.1 L431.0,429.3 L433.8,430.5 L436.6,431.7 L439.4,433.0 L442.2,434.2 L444.0,434.9" fill="none" stroke="#000" stroke-width="1.33"/>
<polygon points="442.11,439.23 456.20,440.20 445.80,430.65" fill="#000" stroke="#000" stroke-width="1.33"/>
<text x="439.40" y="429.10" class="t">2</text>
<path d="M309.2,390.7 L311.0,393.1 L312.7,395.6 L314.5,398.0 L316.3,400.4 L318.0,402.8 L319.8,405.3 L321.5,407.7 L323.3,410.1 L325.0,412.6 L326.8,415.0 L328.5,417.4 L330.3,419.9 L332.0,422.3 L333.8,424.8 L335.5,427.2 L337.3,429.7 L339.0,432.1 L340.7,434.6 L342.4,437.0 L344.2,439.5 L345.9,441.9 L347.6,444.4 L349.3,446.9 L351.0,449.3 L352.8,451.8 L354.5,454.2 L356.2,456.7 L357.9,459.2 L359.6,461.6 L361.4,464.1 L363.1,466.5 L364.8,469.0 L366.5,471.4 L368.3,473.9 L370.0,476.3 L371.8,478.8 L373.5,481.2 L375.3,483.7 L377.0,486.1 L378.8,488.5 L380.6,490.9 L382.3,493.3 L384.1,495.8 L385.9,498.2 L387.7,500.6 L389.5,503.0 L391.3,505.3 L393.2,507.7 L395.0,510.1 L396.8,512.5 L398.5,515.0 L400.3,517.4 L402.0,519.8 L403.8,522.3 L404.7,523.7" fill="none" stroke="#000" stroke-width="1.33"/>
<polygon points="400.85,526.30 412.20,534.70 408.58,521.05" fill="#000" stroke="#000" stroke-width="1.33"/>
<text x="404.60" y="518.20" class="t">9</text>
<path d="M296.7,390.7 L297.3,393.7 L297.9,396.6 L298.5,399.6 L299.2,402.6 L299.8,405.5 L300.4,408.5 L301.0,411.5 L301.5,414.5 L302.1,417.4 L302.7,420.4 L303.3,423.4 L303.8,426.4 L304.4,429.3 L305.0,432.3 L305.5,435.3 L306.1,438.3 L306.6,441.3 L307.2,444.3 L307.7,447.2 L308.3,450.2 L308.8,453.2 L309.4,456.2 L309.9,459.2 L310.4,462.1 L311.0,465.1 L311.5,468.1 L312.1,471.1 L312.7,474.1 L313.2,477.0 L313.8,480.0 L314.4,483.0 L314.9,486.0 L315.5,489.0 L316.1,491.9 L316.7,494.9 L317.3,497.9 L317.9,500.8 L318.5,503.8 L319.1,506.8 L319.7,509.7 L320.3,512.7 L321.0,515.7 L321.6,518.6 L322.3,521.6 L322.9,524.6 L323.6,527.5 L324.2,530.5 L324.9,533.4 L325.5,536.4 L326.2,539.4 L326.9,542.3 L327.6,545.3 L328.3,548.2 L328.9,551.2 L329.6,554.1 L330.3,557.1 L331.0,560.0 L331.7,563.0 L332.4,565.9 L333.1,568.9 L333.8,571.8 L334.5,574.8 L335.2,577.7 L336.0,580.7 L336.7,583.6 L337.4,586.6 L338.1,589.5 L338.8,592.4 L339.6,595.4 L340.3,598.3 L341.0,601.3 L341.7,604.2 L342.5,607.2 L343.2,610.1 L343.9,613.0 L344.6,616.0 L345.1,617.8" fill="none" stroke="#000" stroke-width="1.33"/>
<polygon points="340.55,618.89 348.30,630.70 349.62,616.64" fill="#000" stroke="#000" stroke-width="1.33"/>
<text x="348.40" y="613.80" class="t">1</text>
<path d="M284.2,390.7 L283.4,393.6 L282.5,396.5 L281.7,399.4 L280.9,402.3 L280.1,405.1 L279.3,408.0 L278.5,411.0 L277.7,413.9 L277.0,416.8 L276.3,419.7 L275.6,422.6 L274.9,425.5 L274.3,428.5 L273.6,431.4 L273.0,434.4 L272.4,437.3 L271.8,440.2 L271.2,443.2 L270.6,446.1 L270.0,449.1 L269.5,452.0 L268.9,455.0 L268.4,458.0 L267.8,460.9 L267.3,463.9 L266.7,466.8 L266.2,469.8 L265.7,472.8 L265.2,475.7 L264.7,478.7 L264.2,481.7 L263.8,484.6 L263.4,487.6 L263.0,490.6 L262.6,493.6 L262.3,496.6 L262.0,499.6 L261.8,502.5 L261.5,505.5 L261.4,508.5 L261.2,511.5 L261.1,514.5 L261.0,517.6 L261.0,520.6 L261.0,523.6 L261.0,526.6 L261.1,529.6 L261.2,532.6 L261.2,535.6 L261.3,538.6 L261.5,541.6 L261.6,544.6 L261.7,547.6 L261.9,550.6 L262.1,553.6 L262.3,556.6 L262.5,559.6 L262.7,562.6 L262.9,565.6 L263.2,568.6 L263.5,571.6 L263.8,574.6 L264.1,577.6 L264.4,580.6 L264.8,583.5 L265.2,586.5 L265.6,589.5 L266.0,592.5 L266.5,595.5 L266.9,598.4 L267.5,601.4 L268.0,604.3 L268.6,607.3 L269.2,610.2 L269.8,613.2 L270.5,616.1 L271.2,619.0 L271.9,621.9 L272.7,624.9 L273.5,627.7 L274.4,630.6 L275.3,633.5 L276.2,636.4 L277.2,639.2 L278.2,642.1 L279.2,644.9 L280.4,647.7 L281.5,650.4 L282.8,653.2 L284.1,655.9 L285.5,658.5 L286.9,661.2 L288.5,663.8 L290.1,666.3 L291.8,668.8 L293.6,671.2 L295.5,673.5 L297.5,675.8 L299.6,678.0 L301.7,680.1 L304.0,682.0 L306.4,683.9 L308.8,685.6 L311.4,687.2 L313.9,688.8 L316.5,690.3 L319.2,691.8 L321.8,693.2 L324.5,694.7 L327.1,696.1 L329.8,697.5 L332.4,698.9 L335.1,700.2 L337.8,701.6 L340.4,703.0 L343.1,704.4 L345.8,705.7 L348.6,707.0 L351.3,708.2 L354.1,709.3 L356.9,710.4 L359.7,711.4 L362.5,712.4 L365.4,713.3 L368.3,714.2 L371.2,715.1 L374.1,715.9 L376.9,716.8 L379.8,717.6 L382.7,718.4 L385.6,719.3 L388.5,720.2 L391.4,721.0 L394.3,721.9 L397.1,722.8 L400.0,723.7 L402.9,724.6 L405.7,725.4 L408.6,726.3 L411.5,727.2 L414.4,728.0 L417.3,728.9 L420.1,729.7 L423.0,730.5 L425.9,731.3 L428.8,732.1 L431.8,732.8 L434.7,733.6 L437.6,734.3 L440.5,735.0 L443.4,735.7 L446.3,736.4 L449.3,737.1 L452.2,737.8 L455.1,738.5 L458.1,739.2 L461.0,739.8 L463.9,740.5 L466.9,741.1 L468.5,741.5" fill="none" stroke="#000" stroke-width="1.33"/>
<polygon points="467.46,746.07 481.50,744.50 469.55,736.96" fill="#000" stroke="#000" stroke-width="1.33"/>
<text x="461.20" y="735.50" class="t">9</text>
<path d="M453.3,102.7 L450.8,104.3 L448.3,106.0 L445.7,107.6 L443.2,109.3 L440.7,111.0 L438.2,112.6 L435.8,114.3 L433.3,116.0 L430.8,117.7 L428.4,119.5 L425.9,121.2 L423.5,123.0 L421.1,124.8 L418.7,126.6 L416.3,128.4 L413.9,130.3 L411.5,132.1 L409.2,134.0 L406.8,135.8 L404.5,137.7 L402.2,139.6 L399.9,141.6 L397.5,143.5 L395.2,145.4 L392.9,147.4 L390.7,149.3 L388.4,151.3 L386.1,153.3 L383.8,155.2 L381.6,157.2 L379.3,159.2 L377.0,161.2 L374.8,163.2 L372.6,165.2 L370.3,167.2 L368.1,169.2 L365.9,171.3 L363.7,173.3 L361.5,175.4 L359.3,177.4 L357.1,179.5 L354.9,181.5 L352.7,183.6 L350.6,185.7 L348.4,187.8 L346.3,189.9 L344.2,192.1 L342.1,194.2 L340.0,196.4 L337.9,198.5 L335.8,200.7 L333.7,202.9 L331.7,205.1 L329.6,207.3 L327.6,209.5 L325.6,211.7 L323.6,213.9 L321.6,216.2 L319.6,218.5 L317.7,220.8 L315.7,223.1 L313.8,225.4 L311.9,227.7 L310.0,230.0 L308.1,232.4 L306.2,234.7 L304.4,237.1 L302.5,239.5 L300.7,241.8 L298.9,244.2 L297.1,246.6 L295.3,249.0 L293.5,251.5 L291.7,253.9 L289.9,256.3 L288.2,258.7 L286.4,261.2 L284.7,263.6 L282.9,266.1 L281.2,268.5 L279.5,271.0 L277.8,273.5 L276.0,275.9 L274.3,278.4 L272.6,280.9 L271.0,283.4 L269.3,285.9 L267.6,288.4 L266.0,290.9 L264.4,293.5 L262.9,296.1 L261.4,298.7 L259.9,301.3 L258.5,303.9 L257.1,306.6 L255.7,309.3 L254.3,311.9 L253.0,314.6 L251.7,317.3 L250.4,320.1 L249.1,322.8 L247.8,325.5 L246.6,328.2 L245.4,331.0 L244.2,333.8 L243.1,336.6 L242.0,339.4 L241.0,342.2 L240.1,345.1 L239.2,347.9 L238.4,350.8 L237.6,353.7 L236.9,356.6 L236.2,359.6 L235.6,362.5 L234.9,365.5 L234.4,368.4 L233.8,371.4 L233.3,374.3 L232.9,377.3 L232.5,380.3 L232.1,383.3 L231.9,386.3 L231.7,389.3 L231.6,392.3 L231.5,395.3 L231.5,398.3 L231.5,401.3 L231.6,404.3 L231.7,407.3 L231.8,410.3 L232.0,413.3 L232.2,416.3 L232.5,419.3 L232.8,422.3 L233.2,425.3 L233.6,428.2 L234.1,431.2 L234.6,434.2 L235.1,437.1 L235.7,440.1 L236.3,443.0 L236.9,446.0 L237.5,448.9 L238.1,451.9 L238.7,454.8 L239.4,457.8 L240.1,460.7 L240.8,463.6 L241.5,466.6 L242.3,469.5 L243.1,472.4 L244.0,475.2 L244.9,478.1 L245.9,480.9 L246.9,483.8 L247.9,486.6 L249.1,489.4 L250.2,492.1 L251.4,494.9 L252.6,497.6 L253.9,500.4 L255.2,503.1 L256.4,505.8 L257.7,508.5 L259.0,511.3 L260.3,514.0 L261.5,516.7 L262.8,519.5 L264.1,522.2 L265.3,524.9 L266.7,527.6 L268.0,530.3 L269.3,533.0 L270.7,535.6 L272.1,538.3 L273.6,540.9 L275.0,543.5 L276.5,546.1 L278.1,548.7 L279.6,551.3 L281.2,553.9 L282.8,556.4 L284.4,559.0 L286.0,561.5 L287.6,564.0 L289.3,566.6 L290.9,569.1 L292.6,571.6 L294.3,574.1 L296.0,576.6 L297.7,579.0 L299.4,581.5 L301.1,584.0 L302.8,586.5 L304.5,589.0 L306.3,591.4 L308.0,593.9 L309.7,596.4 L311.4,598.8 L313.2,601.3 L314.9,603.7 L316.6,606.2 L318.4,608.6 L320.1,611.1 L321.8,613.6 L323.6,616.0 L325.3,618.5 L326.3,619.8" fill="none" stroke="#000" stroke-width="1.33"/>
<polygon points="322.48,622.53 334.00,630.70 330.09,617.13" fill="#000" stroke="#000" stroke-width="1.33"/>
<text x="322.40 329.40" y="613.80" class="t">76</text>
<path d="M467.5,102.7 L465.7,105.1 L463.9,107.5 L462.0,109.9 L460.2,112.3 L458.4,114.6 L456.6,117.0 L454.8,119.4 L453.0,121.8 L451.2,124.2 L449.4,126.6 L447.6,129.0 L445.8,131.4 L444.0,133.8 L442.2,136.2 L440.4,138.7 L438.6,141.1 L436.9,143.5 L435.1,145.9 L433.3,148.4 L431.6,150.8 L429.8,153.2 L428.1,155.7 L426.4,158.1 L424.6,160.6 L422.9,163.0 L421.2,165.5 L419.5,168.0 L417.8,170.5 L416.1,172.9 L414.4,175.4 L412.7,177.9 L411.0,180.4 L409.3,182.8 L407.6,185.3 L405.9,187.8 L404.2,190.3 L402.5,192.7 L400.8,195.2 L399.1,197.7 L397.4,200.1 L395.7,202.6 L394.0,205.1 L392.2,207.5 L390.5,210.0 L388.8,212.4 L387.0,214.8 L385.3,217.3 L383.5,219.7 L381.7,222.1 L380.0,224.6 L378.2,227.0 L376.4,229.4 L374.6,231.8 L372.8,234.2 L371.1,236.7 L369.3,239.1 L367.6,241.5 L365.8,244.0 L364.1,246.4 L362.4,248.9 L360.7,251.4 L359.1,253.9 L357.4,256.4 L355.8,258.9 L354.2,261.4 L352.6,264.0 L351.0,266.5 L349.4,269.1 L347.9,271.6 L346.3,274.2 L344.7,276.8 L343.2,279.3 L341.6,281.9 L340.0,284.4 L338.4,287.0 L336.8,289.5 L335.2,292.0 L333.6,294.6 L331.9,297.1 L330.3,299.6 L328.6,302.1 L326.9,304.6 L325.3,307.1 L323.6,309.6 L322.0,312.1 L320.3,314.6 L318.7,317.1 L317.1,319.7 L315.5,322.2 L313.9,324.8 L312.3,327.3 L310.8,329.9 L309.9,331.3" fill="none" stroke="#000" stroke-width="1.33"/>
<polygon points="305.90,328.88 303.00,342.70 313.89,333.71" fill="#000" stroke="#000" stroke-width="1.33"/>
<text x="316.20" y="334.50" class="t">9</text>
<path d="M474.0,102.7 L473.3,105.7 L472.7,108.7 L472.0,111.7 L471.3,114.6 L470.7,117.6 L470.1,120.6 L469.4,123.6 L468.8,126.6 L468.2,129.6 L467.6,132.6 L466.9,135.6 L466.3,138.6 L465.7,141.6 L465.0,144.6 L464.4,147.6 L463.7,150.6 L463.1,153.5 L462.5,156.5 L461.9,159.5 L461.2,162.5 L460.7,165.5 L460.1,168.5 L459.5,171.5 L459.0,174.5 L458.4,177.6 L457.9,180.6 L457.3,183.6 L456.7,186.6 L456.1,189.6 L455.5,192.6 L454.8,195.6 L454.1,198.5 L453.5,201.5 L452.8,204.5 L452.2,207.5 L451.7,210.5 L451.1,213.5 L450.6,216.5 L450.1,219.6 L449.7,222.6 L449.2,225.6 L448.7,228.6 L448.2,231.7 L447.9,233.6" fill="none" stroke="#000" stroke-width="1.33"/>
<polygon points="443.30,232.75 445.50,246.70 452.49,234.42" fill="#000" stroke="#000" stroke-width="1.33"/>
<text x="448.80 455.80" y="232.80" class="t">87</text>
<path d="M492.0,102.7 L508.6,138.6" fill="none" stroke="#000" stroke-width="1.33"/>
<polygon points="504.37,140.56 514.20,150.70 512.84,136.64" fill="#000" stroke="#000" stroke-width="1.33"/>
<text x="509.50" y="133.40" class="t">3</text>
<path d="M525.5,85.3 L528.4,86.0 L531.4,86.6 L534.3,87.3 L537.2,88.0 L540.2,88.6 L543.1,89.3 L546.0,90.0 L549.0,90.7 L551.9,91.4 L554.8,92.1 L557.7,92.8 L560.7,93.5 L563.6,94.2 L566.5,94.9 L569.4,95.6 L572.3,96.4 L575.2,97.2 L578.1,98.0 L581.0,98.8 L583.9,99.7 L586.8,100.6 L589.6,101.5 L592.5,102.4 L595.3,103.4 L598.2,104.4 L601.0,105.4 L603.8,106.4 L606.7,107.5 L609.5,108.6 L612.3,109.6 L615.1,110.7 L617.9,111.8 L620.7,112.9 L623.5,114.0 L626.3,115.1 L629.1,116.2 L631.8,117.4 L634.6,118.6 L637.4,119.8 L640.1,121.0 L642.8,122.3 L645.6,123.6 L648.3,124.9 L651.0,126.2 L653.7,127.5 L656.4,128.9 L659.0,130.2 L661.7,131.6 L664.4,133.1 L667.0,134.5 L669.6,135.9 L672.3,137.4 L674.9,138.9 L677.5,140.4 L680.1,142.0 L682.6,143.5 L685.2,145.1 L687.7,146.7 L690.3,148.4 L692.8,150.0 L695.3,151.7 L697.7,153.4 L700.2,155.1 L702.6,156.9 L705.0,158.7 L707.4,160.5 L709.8,162.4 L712.2,164.2 L714.5,166.1 L716.8,168.1 L719.1,170.0 L721.4,172.0 L723.6,174.0 L725.8,176.0 L728.0,178.1 L730.2,180.2 L732.3,182.3 L734.5,184.4 L736.6,186.6 L738.6,188.8 L740.6,191.0 L742.6,193.3 L744.5,195.6 L746.4,198.0 L748.2,200.4 L749.9,202.9 L751.6,205.3 L753.2,207.9 L754.8,210.4 L756.4,213.0 L757.9,215.6 L759.3,218.3 L760.7,220.9 L762.0,223.6 L763.3,226.3 L764.6,229.1 L765.8,231.8 L766.9,234.6 L768.0,237.5 L769.0,240.3 L769.9,243.2 L770.6,246.1 L771.3,249.0 L771.8,252.0 L772.3,255.0 L772.6,257.9 L772.9,260.9 L773.1,263.9 L773.2,267.0 L773.3,270.0 L773.3,273.0 L773.4,276.0 L773.4,279.0 L773.3,282.0 L773.3,285.0 L773.3,545.0 L773.4,548.0 L773.4,551.0 L773.4,554.1 L773.3,557.1 L773.3,560.1 L773.1,563.1 L773.0,566.1 L772.8,569.1 L772.6,572.1 L772.4,575.2 L772.1,578.2 L771.8,581.2 L771.3,584.2 L770.8,587.1 L770.2,590.1 L769.4,593.0 L768.6,595.9 L767.7,598.8 L766.6,601.7 L765.5,604.5 L764.3,607.2 L763.0,610.0 L761.7,612.7 L760.2,615.3 L758.7,617.9 L757.2,620.5 L755.6,623.1 L753.9,625.6 L752.2,628.1 L750.4,630.5 L748.6,633.0 L746.7,635.3 L744.8,637.7 L742.9,640.0 L740.9,642.3 L738.9,644.5 L736.9,646.8 L734.8,648.9 L732.6,651.1 L730.5,653.2 L728.3,655.2 L726.0,657.2 L723.7,659.2 L721.4,661.2 L719.1,663.1 L716.7,665.0 L714.3,666.8 L711.9,668.6 L709.5,670.4 L707.0,672.1 L704.5,673.9 L702.0,675.5 L699.5,677.2 L696.9,678.8 L694.4,680.4 L691.8,682.0 L689.2,683.6 L686.6,685.1 L684.0,686.6 L681.3,688.0 L678.7,689.5 L676.0,690.9 L673.4,692.3 L670.7,693.7 L668.0,695.1 L665.3,696.5 L662.6,697.9 L659.9,699.2 L657.2,700.6 L654.5,701.9 L651.8,703.3 L649.1,704.6 L646.4,706.0 L643.7,707.3 L641.0,708.6 L638.3,709.9 L635.5,711.2 L632.8,712.4 L630.1,713.7 L627.3,714.9 L624.5,716.1 L621.8,717.3 L619.0,718.6 L616.2,719.8 L613.5,721.0 L610.7,722.2 L608.0,723.4 L605.2,724.6 L602.4,725.8 L599.6,727.0 L596.9,728.2 L594.1,729.3 L591.3,730.4 L588.4,731.5 L585.6,732.6 L582.8,733.5 L579.9,734.5 L577.0,735.4 L574.1,736.2 L571.2,737.0 L568.3,737.8 L566.5,738.2" fill="none" stroke="#000" stroke-width="1.33"/>
<polygon points="565.59,733.60 553.50,740.90 567.50,742.74" fill="#000" stroke="#000" stroke-width="1.33"/>
<text x="564.60 571.60 578.60" y="748.30" class="t">123</text>
<path d="M525.5,89.7 L528.3,90.7 L531.2,91.7 L534.0,92.8 L536.9,93.8 L539.7,94.8 L542.6,95.9 L545.4,96.9 L548.3,98.0 L551.1,99.0 L553.9,100.1 L556.7,101.2 L559.5,102.3 L562.3,103.4 L565.1,104.6 L567.9,105.8 L570.7,106.9 L573.5,108.1 L576.3,109.3 L579.0,110.6 L581.8,111.8 L584.6,113.0 L587.3,114.3 L590.1,115.6 L592.8,116.9 L595.5,118.2 L598.2,119.5 L600.9,120.9 L603.6,122.2 L606.3,123.6 L609.0,125.0 L611.7,126.4 L614.4,127.8 L617.0,129.3 L619.7,130.8 L622.3,132.3 L624.9,133.8 L627.5,135.3 L630.1,136.9 L632.7,138.5 L635.2,140.1 L637.7,141.8 L640.2,143.5 L642.7,145.2 L645.2,147.0 L647.7,148.7 L650.1,150.5 L652.5,152.3 L655.0,154.1 L657.4,156.0 L659.8,157.8 L662.2,159.7 L664.5,161.6 L666.9,163.4 L669.3,165.4 L671.6,167.3 L673.9,169.3 L676.1,171.3 L678.3,173.4 L680.5,175.5 L682.6,177.6 L684.7,179.9 L686.7,182.1 L688.7,184.4 L690.6,186.7 L692.5,189.1 L694.3,191.5 L696.1,194.0 L697.8,196.5 L699.5,199.0 L701.2,201.5 L702.8,204.1 L704.3,206.7 L705.8,209.3 L707.2,212.0 L708.6,214.7 L709.9,217.4 L711.2,220.1 L712.4,222.9 L713.6,225.7 L714.7,228.5 L715.8,231.4 L716.8,234.2 L717.8,237.1 L718.7,240.0 L719.5,242.9 L720.2,245.8 L720.8,248.8 L721.3,251.8 L721.7,254.8 L722.0,257.8 L722.3,260.8 L722.4,263.8 L722.6,266.8 L722.6,269.9 L722.7,272.9 L722.7,275.9 L722.7,278.9 L722.7,282.0 L722.7,285.0 L722.7,350.0 L722.7,353.0 L722.7,356.0 L722.7,359.0 L722.7,362.1 L722.7,365.1 L722.7,368.1 L722.6,371.1 L722.5,374.1 L722.4,377.1 L722.1,380.1 L721.8,383.1 L721.3,386.1 L720.8,389.1 L720.1,392.0 L719.3,394.9 L718.5,397.8 L717.6,400.7 L716.6,403.5 L715.5,406.4 L714.3,409.1 L713.1,411.9 L711.8,414.6 L710.5,417.3 L709.1,420.0 L707.6,422.7 L706.1,425.3 L704.5,427.9 L702.9,430.4 L701.1,432.8 L699.3,435.2 L697.4,437.5 L695.4,439.8 L693.3,442.0 L691.3,444.2 L689.1,446.3 L687.0,448.5 L684.9,450.6 L682.7,452.8 L680.6,454.9 L678.4,457.0 L676.2,459.0 L674.0,461.1 L671.8,463.1 L669.5,465.0 L667.1,466.9 L664.8,468.8 L662.4,470.6 L659.9,472.4 L657.5,474.2 L655.0,475.9 L652.6,477.6 L650.1,479.3 L647.6,481.0 L645.1,482.7 L642.6,484.4 L640.1,486.0 L637.5,487.7 L635.0,489.3 L632.4,490.9 L629.9,492.5 L627.3,494.1 L624.7,495.7 L622.2,497.2 L619.6,498.8 L617.0,500.3 L614.4,501.8 L611.8,503.3 L609.1,504.8 L606.5,506.3 L603.9,507.7 L601.2,509.1 L598.5,510.5 L595.9,511.9 L593.2,513.3 L590.5,514.7 L587.8,516.0 L585.1,517.3 L582.3,518.5 L579.6,519.8 L576.8,521.0 L574.0,522.1 L571.2,523.2 L568.4,524.3 L565.6,525.4 L562.8,526.4 L559.9,527.4 L557.1,528.4 L554.2,529.4 L551.4,530.3 L548.5,531.2 L545.6,532.1 L542.7,533.0 L539.8,533.9 L536.9,534.7 L534.0,535.6 L531.2,536.4 L528.2,537.2 L525.3,538.0 L522.4,538.8 L519.5,539.5 L516.6,540.3 L513.7,541.0 L510.7,541.7 L507.8,542.4 L504.9,543.0 L501.9,543.7 L499.0,544.4 L496.0,545.0 L493.1,545.6 L490.1,546.2 L487.2,546.9 L484.2,547.5 L481.3,548.1 L479.6,548.4" fill="none" stroke="#000" stroke-width="1.33"/>
<polygon points="478.66,543.82 466.50,551.00 480.48,552.98" fill="#000" stroke="#000" stroke-width="1.33"/>
<text x="478.00 485.00 492.00" y="559.00" class="t">178</text>
<path d="M525.5,95.8 L528.0,97.4 L530.6,99.0 L533.1,100.6 L535.6,102.2 L538.1,103.9 L540.6,105.6 L543.1,107.3 L545.5,109.1 L547.9,111.0 L550.2,112.8 L552.5,114.8 L554.8,116.8 L557.0,118.8 L559.2,120.9 L561.3,123.0 L563.4,125.2 L565.4,127.4 L567.4,129.6 L569.3,132.0 L571.2,134.3 L573.0,136.7 L574.8,139.1 L576.6,141.5 L578.3,144.0 L580.0,146.5 L581.6,149.1 L583.1,151.7 L584.5,154.3 L585.8,157.0 L587.1,159.7 L588.2,162.5 L589.2,165.4 L590.1,168.2 L590.9,171.1 L591.7,174.0 L592.5,176.9 L593.2,179.9 L593.9,182.8 L594.6,185.7 L595.2,188.7 L595.8,191.6 L596.4,194.5 L596.9,197.5 L597.4,200.5 L597.8,203.4 L598.2,206.4 L598.6,209.4 L598.9,212.4 L599.1,215.4 L599.3,218.4 L599.4,221.4 L599.4,224.4 L599.4,227.4 L599.4,230.4 L599.2,233.4 L599.1,236.4 L598.8,239.4 L598.6,242.4 L598.3,245.4 L598.0,248.4 L597.6,251.3 L597.3,254.3 L596.9,257.3 L596.5,260.3 L596.2,263.3 L595.8,266.3 L595.3,269.2 L594.8,272.2 L594.2,275.1 L593.6,278.1 L593.0,281.0 L592.2,283.9 L591.5,286.8 L590.7,289.7 L589.9,292.6 L589.1,295.5 L588.3,298.4 L587.5,301.3 L586.6,304.2 L585.8,307.1 L584.9,310.0 L584.0,312.8 L583.1,315.7 L582.2,318.5 L581.1,321.3 L580.1,324.1 L579.0,326.9 L577.8,329.7 L576.6,332.5 L575.4,335.2 L574.2,338.0 L573.0,340.7 L571.7,343.5 L570.5,346.2 L569.2,348.9 L568.0,351.6 L566.7,354.4 L565.4,357.1 L564.1,359.8 L562.8,362.5 L561.5,365.2 L560.2,367.9 L558.9,370.6 L557.5,373.3 L556.1,375.9 L554.8,378.6 L553.4,381.3 L552.0,383.9 L550.6,386.6 L549.2,389.3 L547.8,391.9 L546.4,394.6 L545.0,397.2 L543.7,399.9 L542.3,402.6 L540.9,405.2 L539.5,407.9 L538.0,410.5 L536.6,413.2 L535.1,415.8 L533.6,418.4 L532.1,421.0 L530.6,423.6 L529.0,426.1 L528.1,427.5" fill="none" stroke="#000" stroke-width="1.33"/>
<polygon points="524.18,424.99 520.80,438.70 532.00,430.09" fill="#000" stroke="#000" stroke-width="1.33"/>
<text x="531.90 538.90" y="430.80" class="t">96</text>
<path d="M477.5,486.7 L448.2,524.2" fill="none" stroke="#000" stroke-width="1.33"/>
<polygon points="444.53,521.32 440.00,534.70 451.89,527.07" fill="#000" stroke="#000" stroke-width="1.33"/>
<text x="451.20 458.20" y="527.80" class="t">71</text>
<path d="M494.2,486.7 L494.3,489.7 L494.5,492.7 L494.6,495.7 L494.8,498.7 L494.9,501.7 L495.1,504.7 L495.2,507.7 L495.3,510.7 L495.5,513.8 L495.6,516.8 L495.8,519.8 L495.9,522.8 L496.1,525.8 L496.2,528.8 L496.4,531.8 L496.5,534.8 L496.7,537.8 L496.8,540.8 L497.0,543.8 L497.1,546.8 L497.3,549.8 L497.4,552.8 L497.6,555.8 L497.7,558.8 L497.9,561.8 L498.0,564.8 L498.2,567.9 L498.3,570.9 L498.5,573.9 L498.7,576.9 L498.8,579.9 L499.0,582.9 L499.1,585.9 L499.3,588.9 L499.5,591.9 L499.6,594.9 L499.8,597.9 L499.9,600.9 L500.1,603.9 L500.2,606.9 L500.4,609.9 L500.5,612.9 L500.7,615.9 L500.8,618.9 L501.0,621.9 L501.1,625.0 L501.3,628.0 L501.4,631.0 L501.5,634.0 L501.7,637.0 L501.8,640.0 L502.0,643.0 L502.2,646.0 L502.3,649.0 L502.5,652.0 L502.6,655.0 L502.8,658.0 L503.0,661.0 L503.2,664.0 L503.3,667.0 L503.5,670.0 L503.7,673.0 L503.9,676.0 L504.1,679.0 L504.3,682.0 L504.6,685.0 L504.8,688.0 L505.0,691.0 L505.3,694.0 L505.5,697.0 L505.8,700.0 L506.0,703.0 L506.3,706.0 L506.6,709.0 L506.9,712.0 L507.0,713.7" fill="none" stroke="#000" stroke-width="1.33"/>
<polygon points="502.37,714.18 508.30,727.00 511.66,713.28" fill="#000" stroke="#000" stroke-width="1.33"/>
<text x="501.80 508.80 515.80" y="710.30" class="t">545</text>
<path d="M504.7,486.7 L504.4,489.7 L504.0,492.7 L503.7,495.7 L503.3,498.7 L503.0,501.6 L502.6,504.6 L502.2,507.6 L501.9,510.6 L501.4,513.6 L501.0,516.5 L500.6,519.5 L500.1,522.5 L499.6,525.5 L499.1,528.4 L498.5,531.4 L498.0,534.3 L497.4,537.3 L496.7,540.2 L496.1,543.2 L495.4,546.1 L494.6,549.0 L493.8,551.9 L492.9,554.8 L491.9,557.6 L490.9,560.4 L489.8,563.2 L488.6,566.0 L487.3,568.7 L486.0,571.4 L484.5,574.1 L483.0,576.7 L481.4,579.2 L479.7,581.7 L478.0,584.2 L476.1,586.6 L474.2,588.9 L472.3,591.2 L470.2,593.4 L468.1,595.6 L466.0,597.7 L463.8,599.8 L461.6,601.8 L459.3,603.8 L457.0,605.7 L454.7,607.6 L452.3,609.5 L450.0,611.4 L447.6,613.2 L445.1,615.0 L442.7,616.8 L440.2,618.5 L437.7,620.2 L435.2,621.8 L432.7,623.4 L430.1,624.9 L427.5,626.4 L424.8,627.8 L422.2,629.2 L419.5,630.5 L416.7,631.8 L414.0,633.0 L411.2,634.2 L409.6,634.9" fill="none" stroke="#000" stroke-width="1.33"/>
<polygon points="407.85,630.61 397.30,640.00 411.40,639.24" fill="#000" stroke="#000" stroke-width="1.33"/>
<text x="410.00 417.00" y="644.20" class="t">41</text>
<path d="M456.3,534.7 L485.2,497.3" fill="none" stroke="#000" stroke-width="1.33"/>
<polygon points="488.86,500.11 493.30,486.70 481.46,494.41" fill="#000" stroke="#000" stroke-width="1.33"/>
<text x="471.80" y="500.30" class="t">8</text>
<path d="M410.8,582.7 L381.5,620.2" fill="none" stroke="#000" stroke-width="1.33"/>
<polygon points="377.83,617.32 373.30,630.70 385.19,623.07" fill="#000" stroke="#000" stroke-width="1.33"/>
<text x="383.80 390.80" y="624.20" class="t">10</text>
<path d="M440.3,582.7 L441.6,585.4 L442.9,588.1 L444.2,590.8 L445.5,593.5 L446.8,596.2 L448.1,598.9 L449.4,601.6 L450.7,604.4 L452.0,607.1 L453.2,609.8 L454.5,612.5 L455.8,615.2 L457.1,617.9 L458.4,620.6 L459.7,623.3 L460.9,626.1 L462.2,628.8 L463.5,631.5 L464.8,634.2 L466.0,636.9 L467.3,639.7 L468.6,642.4 L469.8,645.1 L471.1,647.8 L472.4,650.5 L473.6,653.3 L474.9,656.0 L476.1,658.7 L477.4,661.4 L478.7,664.2 L479.9,666.9 L481.2,669.6 L482.4,672.3 L483.7,675.1 L484.9,677.8 L486.2,680.5 L487.4,683.2 L488.7,686.0 L489.9,688.7 L491.2,691.4 L492.4,694.2 L493.7,696.9 L494.9,699.6 L496.2,702.3 L497.4,705.1 L498.6,707.8 L499.9,710.6 L501.1,713.3 L501.8,714.8" fill="none" stroke="#000" stroke-width="1.33"/>
<polygon points="497.51,716.73 507.20,727.00 506.04,712.92" fill="#000" stroke="#000" stroke-width="1.33"/>
<text x="501.10" y="710.30" class="t">5</text>
<path d="M396.7,678.7 L399.4,680.3 L402.0,681.9 L404.7,683.4 L407.3,685.0 L410.0,686.6 L412.6,688.2 L415.3,689.8 L417.9,691.4 L420.6,693.0 L423.2,694.6 L425.8,696.2 L428.5,697.8 L431.1,699.4 L433.7,701.1 L436.4,702.7 L439.0,704.3 L441.6,705.9 L444.2,707.6 L446.9,709.2 L449.5,710.8 L452.1,712.4 L454.8,714.0 L457.4,715.6 L460.1,717.1 L462.8,718.7 L465.4,720.2 L468.1,721.8 L469.9,722.9" fill="none" stroke="#000" stroke-width="1.33"/>
<polygon points="467.62,726.90 481.50,729.50 472.27,718.80" fill="#000" stroke="#000" stroke-width="1.33"/>
<text x="463.70 470.70" y="716.70" class="t">39</text>
<path d="M524.0,726.7 L524.2,723.7 L524.4,720.7 L524.7,717.7 L524.8,714.7 L525.0,711.7 L525.2,708.7 L525.3,705.7 L525.4,702.7 L525.4,699.7 L525.4,696.7 L525.4,693.7 L525.4,690.7 L525.3,687.7 L525.2,684.7 L525.2,681.7 L525.1,678.7 L525.0,675.7 L524.9,672.7 L524.9,669.7 L524.8,666.7 L524.7,663.7 L524.7,660.7 L524.6,657.7 L524.6,654.7 L524.5,651.7 L524.5,648.7 L524.4,645.6 L524.3,642.6 L524.2,639.6 L524.2,636.6 L524.1,633.6 L524.0,630.6 L523.9,627.6 L523.8,624.6 L523.7,621.6 L523.6,618.6 L523.5,615.6 L523.4,612.6 L523.3,609.6 L523.1,606.6 L523.0,603.6 L522.9,600.6 L522.8,597.6 L522.7,594.6 L522.5,591.6 L522.4,588.6 L522.3,585.6 L522.2,582.6 L522.0,579.6 L521.9,576.6 L521.8,573.6 L521.6,570.6 L521.5,567.6 L521.4,564.6 L521.2,561.6 L521.1,558.6 L520.9,555.6 L520.8,552.6 L520.7,549.6 L520.5,546.6 L520.4,543.6 L520.2,540.6 L520.1,537.6 L519.9,534.6 L519.8,531.6 L519.6,528.6 L519.5,525.6 L519.3,522.6 L519.1,519.6 L518.9,516.6 L518.7,513.6 L518.4,510.6 L518.2,507.6 L517.9,504.6 L517.7,501.6 L517.5,500.0" fill="none" stroke="#000" stroke-width="1.33"/>
<polygon points="522.16,499.50 516.20,486.70 512.87,500.43" fill="#000" stroke="#000" stroke-width="1.33"/>
<text x="506.20" y="510.30" class="t">2</text>
</svg>
</body></html>
